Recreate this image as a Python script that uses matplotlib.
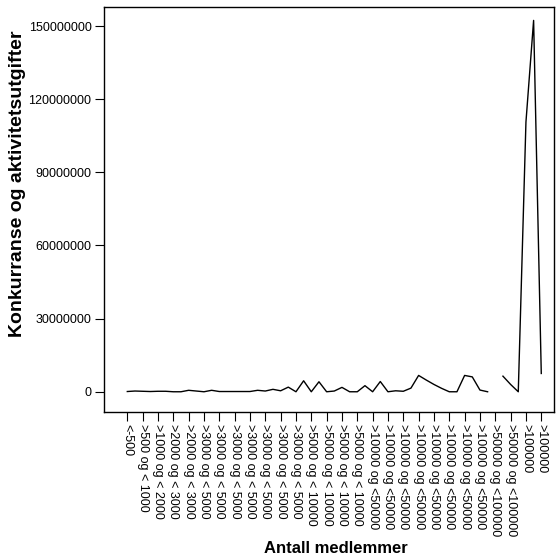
import numpy as np
import matplotlib
matplotlib.use("Agg")
import matplotlib.pyplot as plt

plt.rcParams['font.family'] = ['Liberation Sans', 'DejaVu Sans']

# Values in millions (NaN = missing)
values_m = [0.1, 0.3, 0.2, 0.1, 0.2, 0.2, 0.0, 0.0, 0.6, 0.3,
            0.0, 0.6, 0.1, 0.1, 0.1, 0.1, 0.1, 0.6, 0.3, 1.0,
            0.4, 1.9, 0.0, 4.5, 0.0, 4.1, 0.0, 0.3, 1.8, 0.0,
            0.0, 2.5, 0.0, 4.2, 0.0, 0.4, 0.2, 1.5, 6.7, 4.8,
            3.0, 1.4, 0.0, 0.0, 6.7, 6.1, 0.7, 0.0, np.nan, 6.4,
            3.0, 0.0, 110.6, 152.3, 7.5]
values = np.array(values_m) * 1e6

tick_labels = ["<-500", ">500 og < 1000", ">1000 og < 2000",
               ">2000 og < 3000", ">2000 og < 3000",
               ">3000 og < 5000", ">3000 og < 5000", ">3000 og < 5000",
               ">3000 og < 5000", ">3000 og < 5000", ">3000 og < 5000",
               ">3000 og < 5000",
               ">5000 og < 10000", ">5000 og < 10000", ">5000 og < 10000",
               ">5000 og < 10000",
               ">10000 og <50000", ">10000 og <50000", ">10000 og <50000",
               ">10000 og <50000", ">10000 og <50000", ">10000 og <50000",
               ">10000 og <50000", ">10000 og <50000",
               ">50000 og <100000", ">50000 og <100000",
               ">100000", ">100000"]

y_ticks = [0, 30000000, 60000000, 90000000, 120000000, 150000000]

fig = plt.figure(figsize=(5.57, 5.59), dpi=100)
ax = fig.add_axes([104/557, 1-412/559, 450/557, 405/559])

x = np.arange(len(values))
ax.plot(x, values, color='black', lw=1.0)

ax.set_xlim(-3.04, 55.66)
ax.set_ylim(-8.3e6, 157.8e6)

ax.set_xticks(x[::2])
ax.set_xticklabels(tick_labels, rotation=-90, fontsize=9, va='top', ha='center')
ax.set_yticks(y_ticks)
ax.set_yticklabels([str(v) for v in y_ticks], fontsize=9)

ax.tick_params(direction='out', length=6.5, width=0.8, pad=2.5, color='black')
for s in ax.spines.values():
    s.set_linewidth(1.0)

ax.set_xlabel("Antall medlemmer", fontsize=12, fontweight='bold')
ax.xaxis.set_label_coords(0.5156, -0.336)
ax.xaxis.label.set_va('center')
ax.set_ylabel("Konkurranse og aktivitetsutgifter", fontsize=14, fontweight='bold')
ax.yaxis.set_label_coords(-0.193, 0.563)
ax.yaxis.label.set_va('center')

fig.savefig("out.png", dpi=100)
